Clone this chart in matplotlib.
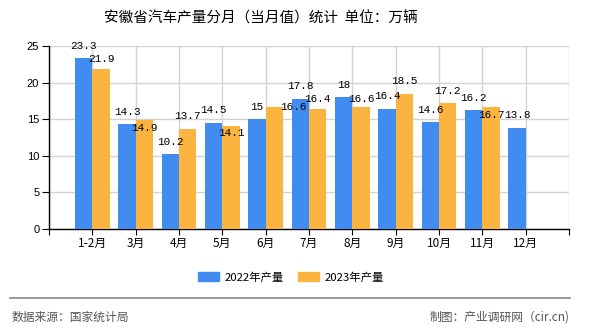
import numpy as np
import matplotlib
matplotlib.use("Agg")
import matplotlib.pyplot as plt
from matplotlib.lines import Line2D
from matplotlib.patches import Patch

plt.rcParams['font.family'] = ['Noto Sans CJK SC', 'DejaVu Sans']

categories = ['1-2月', '3月', '4月', '5月', '6月', '7月', '8月', '9月', '10月', '11月', '12月']
values_2022 = [23.3, 14.3, 10.2, 14.5, 15, 17.8, 18, 16.4, 14.6, 16.2, 13.8]
values_2023 = [21.9, 14.9, 13.7, 14.1, 16.6, 16.4, 16.6, 18.5, 17.2, 16.7, np.nan]
series_names = ['2022年产量', '2023年产量']
title = '安徽省汽车产量分月（当月值）统计  单位：万辆'
source_left = '数据来源：国家统计局'
source_right = '制图：产业调研网（cir.cn)'

colors = ['#418CF0', '#FCB441']

# label offset overrides in pixels (series, index) -> (dx, dy)
label_offsets = {
    (1, 0): (0, 10), (1, 1): (0, -8), (1, 3): (0, -7.5), (1, 4): (19, 0),
    (1, 5): (0, 10), (1, 6): (0, 8.5), (1, 9): (0, -8),
}

W, H = 590, 330
fig = plt.figure(figsize=(W / 100, H / 100), dpi=100)
ax = fig.add_axes([49 / W, 1 - 229 / H, (569 - 49) / W, (229 - 46) / H])

x = np.arange(len(categories))
bw = 0.4
series = [values_2022, values_2023]
for si, vals in enumerate(series):
    xs = x - bw if si == 0 else x
    ax.bar(xs, vals, width=bw, align='edge', color=colors[si], zorder=3, linewidth=0)
    for i, v in enumerate(vals):
        if np.isnan(v):
            continue
        dx, dy = label_offsets.get((si, i), (0, 12.5))
        txt = f'{v:g}'
        ax.annotate(txt, (xs[i] + bw / 2, v), xytext=(dx, dy), textcoords='offset pixels',
                    ha='center', va='center', fontsize=7.9, family='Liberation Mono',
                    color='black', zorder=5)

ax.set_xlim(-1, len(categories))
ax.set_ylim(0, 25)
ax.set_yticks(np.arange(0, 26, 5))
ax.set_xticks(np.arange(-1, len(categories) + 1))
ax.set_xticklabels([''] + categories + [''])
ax.grid(True, color='#d3d3d3', linewidth=1, zorder=0)
for s in ['top', 'right']:
    ax.spines[s].set_visible(False)
for s in ['left', 'bottom']:
    ax.spines[s].set_color('black')
    ax.spines[s].set_linewidth(1)
ax.tick_params(axis='x', length=4, pad=2, labelsize=8.5, color='black')
ax.tick_params(axis='y', length=5, pad=2, labelsize=8, color='black')
for lbl in ax.get_yticklabels():
    lbl.set_family('Liberation Sans')

fig.text(261 / W, 1 - 18 / H, title, ha='center', va='center', fontsize=10.5)

handles = [Patch(color=c, label=n) for c, n in zip(colors, series_names)]
fig.legend(handles=handles, loc='center', bbox_to_anchor=(291 / W, 1 - 277 / H), ncol=2,
           frameon=False, fontsize=8.2, handlelength=1.85, handleheight=0.8,
           handletextpad=0.5, columnspacing=1.3)

fig.add_artist(Line2D([10 / W, 570 / W], [1 - 298 / H] * 2, color='#888888', lw=1.2))
fig.text(12 / W, 1 - 317 / H, source_left, ha='left', va='center', fontsize=8.5, color='#555555')
fig.text(570 / W, 1 - 317 / H, source_right, ha='right', va='center', fontsize=8.5, color='#555555')

fig.savefig('out.png', dpi=100, facecolor='white')
